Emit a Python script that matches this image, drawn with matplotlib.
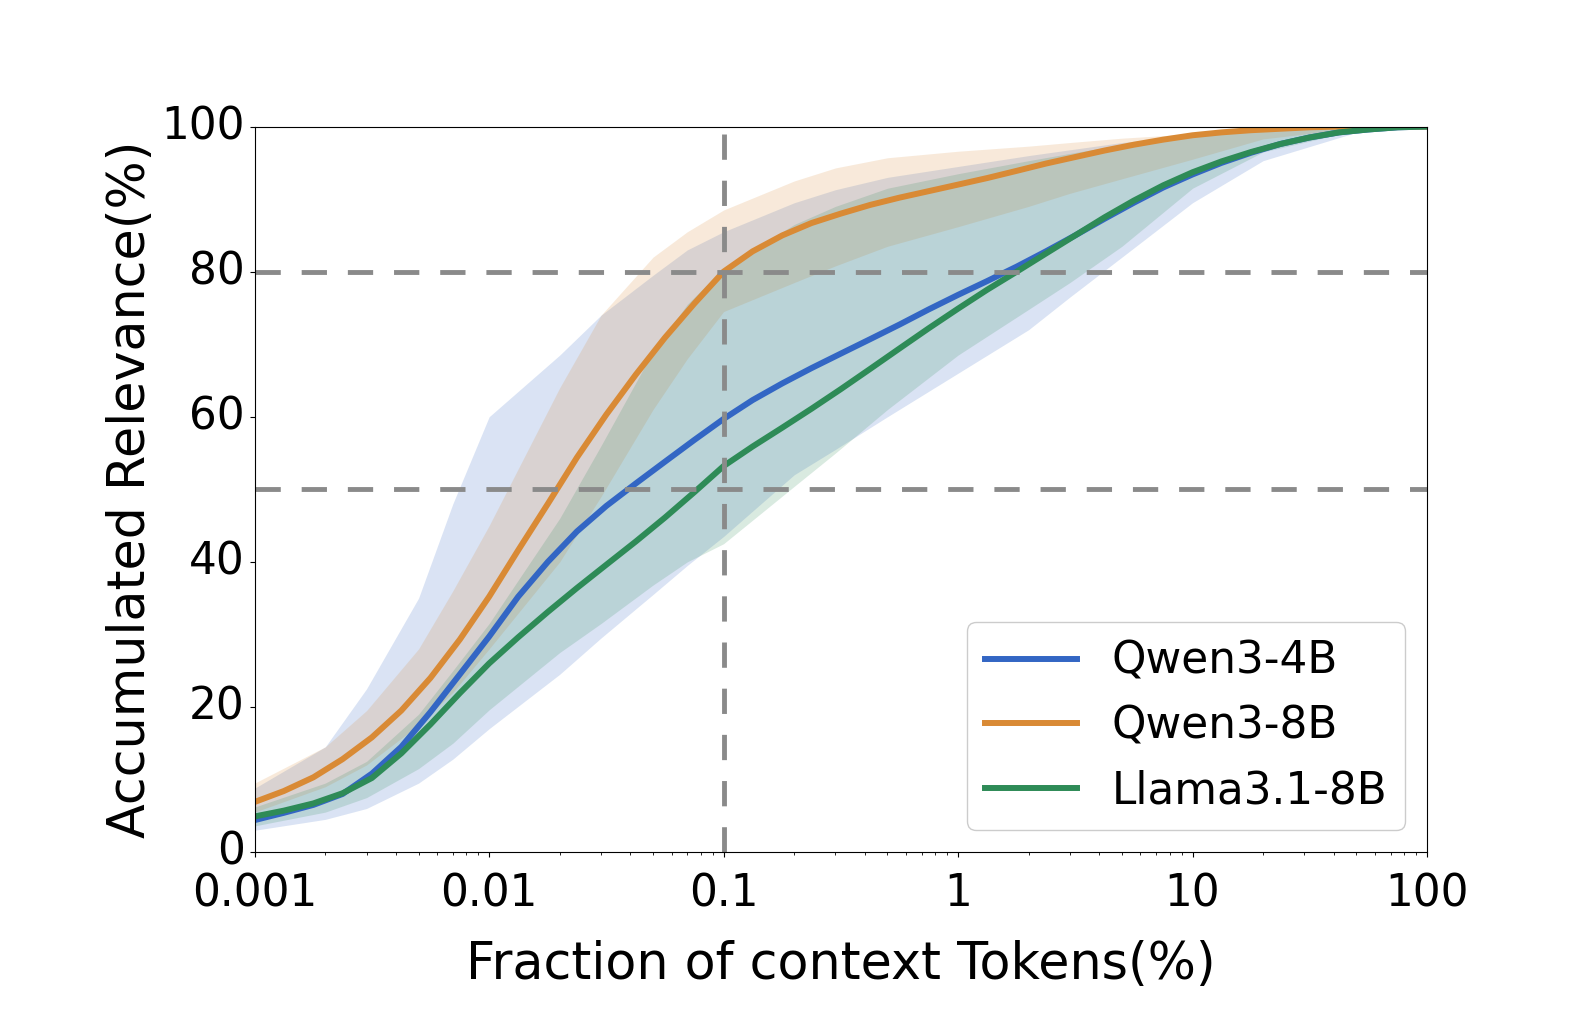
import numpy as np
import matplotlib
matplotlib.use("Agg")
import matplotlib.pyplot as plt

# x positions of the mean curves (fraction of context tokens, %), 8 per decade
x_mean = [0.001, 0.00133, 0.00178, 0.00237, 0.00316, 0.00422, 0.00562, 0.0075,
          0.01, 0.0133, 0.0178, 0.0237, 0.0316, 0.0422, 0.0562, 0.075,
          0.1, 0.133, 0.178, 0.237, 0.316, 0.422, 0.562, 0.75,
          1, 1.33, 1.78, 2.37, 3.16, 4.22, 5.62, 7.5,
          10, 13.3, 17.8, 23.7, 31.6, 42.2, 56.2, 75, 100]

qwen4b_mean = [4.4, 5.4, 6.5, 8.0, 10.8, 14.5, 19.3, 24.5,
               29.7, 35.2, 40.0, 44.2, 47.7, 50.8, 53.8, 56.8,
               59.7, 62.3, 64.6, 66.7, 68.7, 70.7, 72.7, 74.8,
               76.8, 78.7, 80.7, 82.8, 85.0, 87.3, 89.5, 91.6,
               93.4, 95.0, 96.4, 97.6, 98.5, 99.2, 99.6, 99.9, 100]
qwen8b_mean = [6.9, 8.4, 10.3, 12.8, 15.8, 19.5, 24.0, 29.3,
               35.2, 41.6, 48.0, 54.4, 60.3, 65.8, 70.9, 75.6,
               80.0, 82.8, 85.0, 86.7, 88.0, 89.2, 90.2, 91.1,
               92.0, 92.9, 93.9, 94.9, 95.8, 96.7, 97.5, 98.2,
               98.8, 99.2, 99.5, 99.7, 99.9, 100, 100, 100, 100]
llama_mean = [4.9, 5.7, 6.7, 8.1, 10.2, 13.6, 17.6, 21.9,
              26.0, 29.6, 33.1, 36.4, 39.6, 42.8, 46.1, 49.6,
              53.2, 55.9, 58.5, 61.1, 63.8, 66.6, 69.4, 72.2,
              74.9, 77.5, 80.0, 82.5, 85.0, 87.5, 89.8, 91.9,
              93.7, 95.2, 96.5, 97.6, 98.5, 99.2, 99.6, 99.9, 100]

# x positions of the min/max bands
x_band = [0.001, 0.002, 0.003, 0.005, 0.007, 0.01, 0.02, 0.03, 0.05, 0.07,
          0.1, 0.2, 0.3, 0.5, 1, 2, 3, 5, 10, 20, 50, 100]

qwen4b_low = [3.0, 4.5, 6.0, 9.5, 12.8, 17.0, 24.5, 29.5, 35.5, 39.5,
              43.5, 52.0, 55.5, 60.0, 66.0, 72.0, 76.5, 82.0, 89.5, 95.3, 99.2, 100]
qwen4b_high = [8.8, 14.5, 22.5, 35.0, 48.0, 60.0, 68.5, 74.0, 79.5, 83.0,
               85.5, 89.5, 91.3, 93.0, 94.5, 96.0, 96.8, 97.8, 98.8, 99.5, 99.9, 100]
qwen8b_low = [5.5, 9.0, 12.0, 17.5, 22.0, 28.0, 40.0, 49.0, 61.0, 68.0,
              74.5, 78.5, 80.8, 83.5, 86.2, 89.0, 90.8, 92.8, 95.5, 98.3, 99.8, 100]
qwen8b_high = [9.5, 14.5, 19.5, 28.0, 36.0, 45.0, 64.0, 74.0, 82.0, 85.5,
               88.5, 92.5, 94.3, 95.7, 96.6, 97.3, 97.8, 98.4, 99.0, 99.6, 100, 100]
llama_low = [3.6, 5.5, 7.5, 11.5, 15.0, 19.6, 27.5, 31.5, 36.8, 40.0,
             42.5, 50.4, 55.0, 61.0, 68.5, 74.8, 78.5, 83.5, 91.5, 96.5, 99.5, 100]
llama_high = [6.2, 9.5, 12.5, 19.0, 25.0, 31.5, 46.0, 56.0, 69.0, 75.5,
              80.5, 86.5, 89.0, 91.5, 93.5, 95.3, 96.3, 97.5, 98.7, 99.5, 99.9, 100]

labels = ["Qwen3-4B", "Qwen3-8B", "Llama3.1-8B"]
colors = ["#3366c4", "#d98a35", "#2e8b57"]

fig = plt.figure(figsize=(15.82, 10.29), dpi=100)
ax = fig.add_axes([0.161, 0.172, 0.741, 0.705])

bands = [(qwen4b_low, qwen4b_high), (qwen8b_low, qwen8b_high), (llama_low, llama_high)]
means = [qwen4b_mean, qwen8b_mean, llama_mean]

for (lo, hi), c in zip(bands, colors):
    ax.fill_between(x_band, lo, hi, color=c, alpha=0.18, linewidth=0)
for m, c, lab in zip(means, colors, labels):
    ax.plot(x_mean, m, color=c, linewidth=4.3, label=lab, solid_joinstyle="round")

dash = (0, (5.2, 4.3))
ax.axhline(80, color="#8a8a8a", linewidth=3.5, linestyle=dash)
ax.axhline(50, color="#8a8a8a", linewidth=3.5, linestyle=dash)
ax.axvline(0.1, color="#8a8a8a", linewidth=3.5, linestyle=dash)

ax.set_xscale("log")
ax.set_xlim(0.001, 100)
ax.set_ylim(0, 100)
ax.set_xticks([0.001, 0.01, 0.1, 1, 10, 100])
ax.set_xticklabels(["0.001", "0.01", "0.1", "1", "10", "100"])
ax.set_yticks([0, 20, 40, 60, 80, 100])
ax.tick_params(labelsize=31.5)
ax.tick_params(axis="x", pad=11)
for t in ax.get_yticklabels():
    t.set_verticalalignment("center")
ax.set_xlabel("Fraction of context Tokens(%)", fontsize=36.5, labelpad=18)
ax.set_ylabel("Accumulated Relevance(%)", fontsize=36.5, labelpad=4)

ax.legend(loc="lower right", fontsize=31.5, handlelength=2.1, framealpha=1)

fig.savefig("out.png", dpi=100)
